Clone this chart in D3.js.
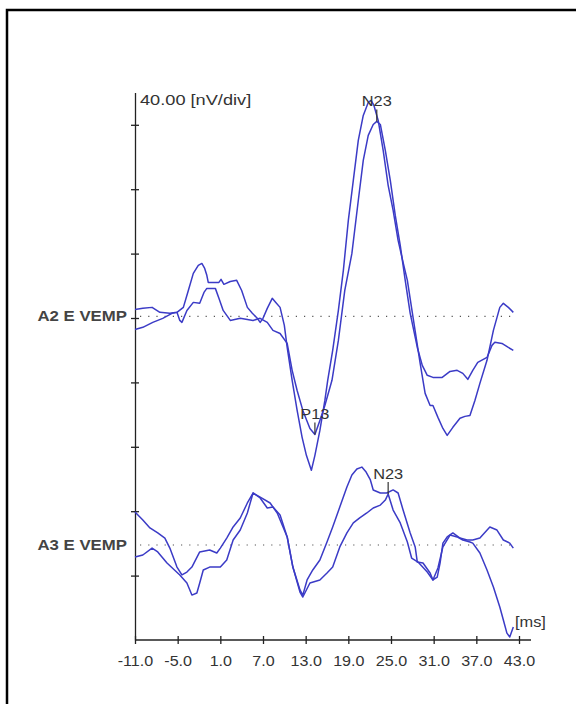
<!DOCTYPE html>
<html>
<head>
<meta charset="utf-8">
<script src="https://cdn.jsdelivr.net/npm/d3@7"></script>
<style>
  body { margin: 0; background: #fff; }
  text { font-family: "Liberation Sans", Arial, sans-serif; fill: #333; }
</style>
</head>
<body>
<svg id="chart" width="576" height="704"></svg>
<script>
// Time axis ticks (ms) and amplitude divisions (nV).
const xTicks = [-11, -5, 1, 7, 13, 19, 25, 31, 37, 43];
const yTicks = [40, 80, 120, 160, 200, 240, 280, 320];
const yTitle = "40.00 [nV/div]";
const xTitle = "[ms]";

// Channel names and their baseline offsets (nV above the bottom axis).
const channels = ["A2 E VEMP", "A3 E VEMP"];
const baselines = [201, 59];

// Traces, [ms, nV relative to baseline].
const a2Trace1 = [[-11.0,4.3],[-9.9,5.0],[-8.6,5.6],[-7.5,2.5],[-6.1,1.9],[-5.1,2.5],[-4.2,5.6],[-3.5,16.1],
  [-2.8,26.7],[-2.1,31.7],[-1.6,32.9],[-1.2,29.8],[-0.9,25.5],[-0.7,21.1],[0.3,21.1],[0.8,21.1],[1.1,23.0],
  [1.5,19.9],[2.4,21.7],[3.3,22.4],[4.0,16.1],[4.8,5.6],[5.5,1.9],[6.2,-1.2],[6.6,-3.7],[7.0,-1.2],[7.6,5.0],
  [8.3,11.2],[8.8,8.7],[9.4,5.6],[10.0,-5.6],[10.4,-19.3],[11.1,-39.7],[11.8,-58.4],[12.5,-75.1],[13.1,-86.3],
  [13.8,-95.6],[14.3,-86.3],[15.0,-70.8],[15.7,-52.2],[16.1,-39.7],[16.8,-21.1],[17.6,3.7],[18.3,28.6],
  [19.0,59.6],[19.7,84.5],[20.4,109.3],[21.1,124.8],[21.8,132.9],[22.2,134.1],[22.6,131.0],[23.2,121.7],
  [23.9,103.1],[24.6,81.4],[25.3,65.8],[26.0,47.2],[26.7,33.5],[27.3,22.4],[28.1,-0.6],[29.1,-29.2],
  [29.8,-47.8],[30.5,-55.3],[30.9,-55.3],[31.6,-62.7],[32.3,-69.6],[32.9,-73.9],[33.7,-68.9],[34.7,-63.3],
  [35.4,-62.1],[36.1,-61.5],[36.8,-52.2],[37.5,-41.6],[38.5,-27.3],[39.4,-8.7],[40.3,5.6],[40.8,8.1],
  [41.5,5.6],[42.2,2.5]];
const a2Trace2 = [[-11.0,-8.1],[-9.9,-6.8],[-8.5,-3.7],[-7.1,-1.2],[-5.8,1.9],[-5.1,2.5],[-4.7,-2.5],
  [-4.4,-3.7],[-3.7,3.7],[-2.8,8.7],[-1.9,8.1],[-1.3,14.9],[-0.9,17.4],[0.3,17.4],[0.8,11.2],[1.4,3.7],
  [2.4,-2.5],[3.8,-1.2],[5.6,-2.5],[6.6,-1.2],[7.6,-3.7],[8.4,-8.7],[9.4,-10.6],[10.4,-16.8],[11.1,-33.5],
  [11.8,-46.0],[12.6,-58.4],[13.6,-69.6],[14.3,-73.3],[15.0,-64.6],[15.7,-55.3],[16.7,-39.7],[17.6,-14.9],
  [18.5,16.1],[19.5,39.1],[20.4,72.0],[21.1,96.9],[21.8,112.4],[22.5,119.2],[23.0,121.1],[23.5,119.2],
  [24.2,103.1],[24.9,84.5],[25.6,62.7],[26.3,44.1],[27.0,22.4],[27.7,1.9],[28.7,-19.3],[29.4,-30.4],
  [30.1,-36.6],[30.9,-37.9],[32.2,-37.9],[33.3,-34.2],[34.3,-33.5],[35.1,-35.4],[35.8,-39.1],[36.5,-33.5],
  [37.2,-28.6],[38.5,-25.5],[39.2,-18.0],[39.6,-16.1],[40.6,-16.8],[41.5,-19.3],[42.2,-21.1]];
const a3Trace1 = [[-11.0,20.5],[-9.9,15.5],[-8.9,10.6],[-7.8,7.5],[-6.8,4.3],[-6.1,-1.9],[-5.1,-13.7],
  [-4.4,-18.6],[-3.7,-16.8],[-3.0,-13.7],[-1.9,-4.3],[-0.5,-3.1],[0.5,-5.0],[1.0,-1.9],[1.9,4.3],[2.8,11.2],
  [3.8,16.8],[4.8,26.1],[5.6,32.3],[6.6,29.2],[7.6,23.0],[8.4,23.6],[9.4,18.6],[10.4,5.0],[11.2,-13.7],
  [12.2,-27.9],[12.6,-31.1],[13.2,-21.7],[14.0,-15.5],[15.0,-9.3],[16.0,1.9],[16.8,11.2],[17.8,23.6],
  [18.8,36.0],[19.5,43.5],[20.2,47.2],[20.9,48.4],[21.5,45.3],[22.1,40.4],[22.5,34.2],[23.5,32.3],
  [24.4,32.3],[25.3,34.2],[26.0,32.3],[26.7,21.7],[27.7,7.5],[28.4,-1.2],[28.7,-10.6],[29.5,-11.2],
  [30.5,-17.4],[30.9,-21.7],[31.5,-19.9],[31.9,-11.2],[32.3,1.2],[32.9,5.0],[33.7,7.5],[34.7,4.3],
  [35.7,3.1],[36.5,3.1],[37.5,4.3],[38.9,11.2],[39.9,9.3],[40.8,3.1],[41.7,1.2],[42.2,-1.9]];
const a3Trace2 = [[-11.0,-7.5],[-9.9,-6.2],[-8.6,-1.9],[-7.8,-4.3],[-6.5,-11.2],[-4.7,-18.6],[-3.7,-23.6],
  [-3.0,-31.1],[-2.3,-29.8],[-1.9,-23.6],[-1.4,-15.5],[-0.5,-13.7],[1.0,-13.7],[1.9,-9.3],[2.8,3.1],
  [3.8,9.3],[4.8,19.9],[5.6,32.3],[6.6,29.8],[8.0,26.1],[9.0,19.9],[10.4,5.0],[11.2,-13.7],[12.2,-29.2],
  [12.6,-32.3],[13.6,-23.6],[15.0,-21.7],[16.0,-17.4],[16.8,-13.7],[17.8,-1.2],[18.8,7.5],[19.7,13.7],
  [20.6,16.8],[21.6,19.9],[22.5,23.0],[23.5,24.8],[24.2,27.9],[24.6,31.7],[25.3,21.7],[26.3,13.7],
  [27.3,1.9],[27.9,-8.1],[28.8,-10.6],[30.1,-16.8],[30.9,-21.7],[31.6,-14.3],[32.3,-1.2],[33.3,6.2],
  [34.3,5.0],[35.1,3.1],[36.1,1.9],[36.5,1.2],[37.5,-5.0],[38.5,-15.5],[39.4,-26.1],[40.3,-38.5],
  [40.8,-46.6],[41.3,-54.7],[41.7,-57.1],[42.2,-50.9]];

// Peak markers: label, channel index, latency (ms), amplitude on trace 2.
const markers = [
  { label: "P13", ch: 0, t: 14.3, v: -73.3 },
  { label: "N23", ch: 0, t: 23.0, v: 121.1 },
  { label: "N23", ch: 1, t: 24.6, v: 31.7 }
];

const svg = d3.select("#chart");
const traceColor = "#3b3bc6";

// Outer frame.
svg.append("rect")
  .attr("x", 7).attr("y", 10)
  .attr("width", 600).attr("height", 720)
  .attr("fill", "none").attr("stroke", "#000").attr("stroke-width", 2.5);

const x = d3.scaleLinear().domain([-11, 43]).range([135, 519]);
const y = d3.scaleLinear().domain([0, 340]).range([640, 92.6]);

// X axis.
const gx = svg.append("g")
  .attr("transform", `translate(0,${y(0)})`)
  .call(d3.axisBottom(x).tickValues(xTicks).tickFormat(d => d.toFixed(1)).tickSizeOuter(0));
gx.select(".domain").attr("d", `M${x(-11)},0H531`).attr("stroke", "#222").attr("stroke-width", 1.3);
gx.selectAll(".tick line").attr("y1", -4).attr("y2", 4).attr("stroke", "#222").attr("stroke-width", 1.3);
gx.selectAll(".tick text")
  .attr("y", 16).attr("dy", "0.71em")
  .style("font-size", "14px")
  .attr("transform", "scale(1.15,1)")
  .style("fill", "#333");

// Y axis.
const gy = svg.append("g")
  .attr("transform", `translate(${x(-11)},0)`)
  .call(d3.axisLeft(y).tickValues(yTicks).tickFormat("").tickSizeOuter(0));
gy.select(".domain").attr("stroke", "#222").attr("stroke-width", 1.3);
gy.selectAll(".tick line").attr("x1", -4).attr("x2", 4).attr("stroke", "#222").attr("stroke-width", 1.3);

svg.append("text")
  .attr("transform", `translate(${x(-11) + 5},${y(340) + 12}) scale(1.3,1)`)
  .style("font-size", "14px")
  .text(yTitle);

svg.append("text")
  .attr("transform", `translate(${x(43) - 4},${y(0) - 13}) scale(1.17,1)`)
  .style("font-size", "14px")
  .text(xTitle);

// Channels: baseline, name, traces.
const line = d3.line().x(d => x(d[0])).y(d => y(d[1]));
const traces = [[a2Trace1, a2Trace2], [a3Trace1, a3Trace2]];

channels.forEach((name, i) => {
  const base = baselines[i];
  svg.append("line")
    .attr("x1", x(-11) + 5).attr("x2", x(42.2))
    .attr("y1", y(base)).attr("y2", y(base))
    .attr("stroke", "#555").attr("stroke-width", 1.2)
    .attr("stroke-dasharray", "1.2,7");

  svg.append("text")
    .attr("transform", `translate(${x(-11) - 8},${y(base) + 5}) scale(1.2,1)`)
    .attr("text-anchor", "end")
    .style("font-size", "14px")
    .style("font-weight", "bold")
    .style("fill", "#444")
    .text(name);

  traces[i].forEach(tr => {
    svg.append("path")
      .datum(tr.map(d => [d[0], d[1] + base]))
      .attr("fill", "none")
      .attr("stroke", traceColor)
      .attr("stroke-width", 1.5)
      .attr("stroke-linejoin", "round")
      .attr("d", line);
  });
});

// Peak markers.
markers.forEach(m => {
  const px = x(m.t), py = y(m.v + baselines[m.ch]);
  svg.append("line")
    .attr("x1", px).attr("x2", px)
    .attr("y1", py).attr("y2", py - 12)
    .attr("stroke", "#333").attr("stroke-width", 1.2);
  svg.append("text")
    .attr("transform", `translate(${px},${py - 15}) scale(1.17,1)`)
    .attr("text-anchor", "middle")
    .style("font-size", "14px")
    .text(m.label);
});
</script>
</body>
</html>
